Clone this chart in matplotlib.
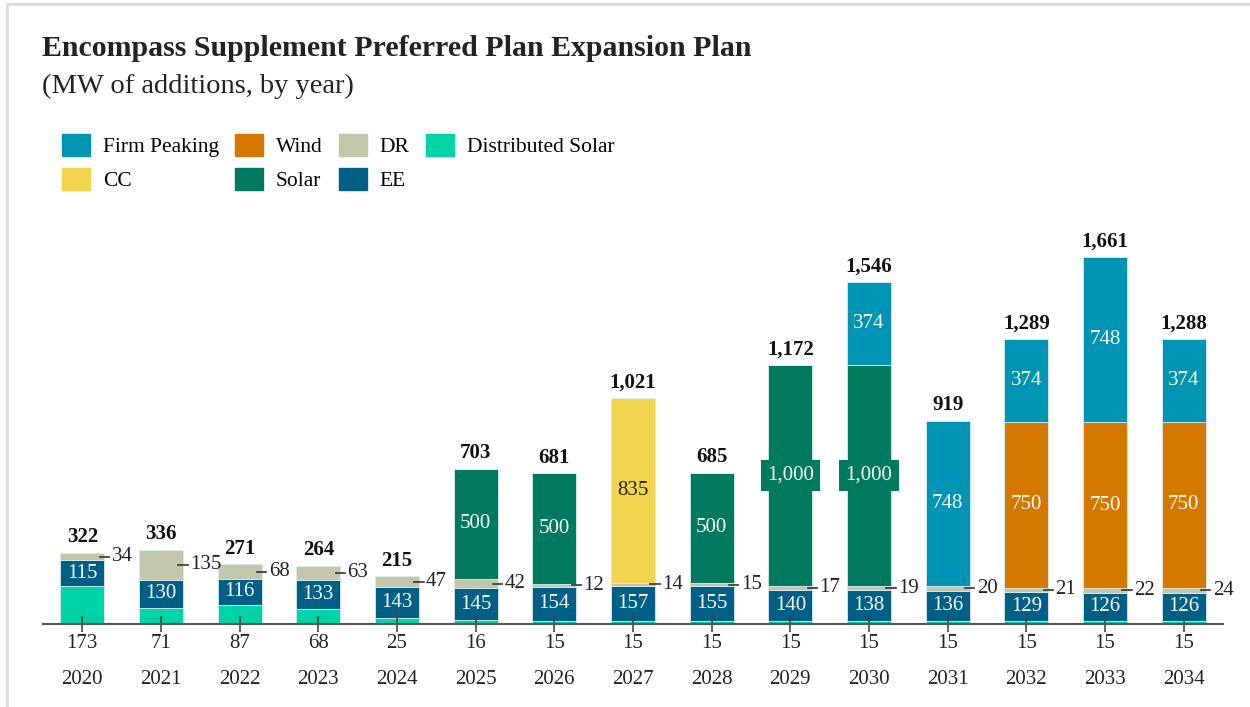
import numpy as np
import matplotlib.pyplot as plt
from matplotlib.patches import Patch
from matplotlib.lines import Line2D

plt.rcParams['font.family'] = ['Liberation Serif', 'DejaVu Serif']

years = ['2020', '2021', '2022', '2023', '2024', '2025', '2026', '2027',
         '2028', '2029', '2030', '2031', '2032', '2033', '2034']
dist_solar = [173, 71, 87, 68, 25, 16, 15, 15, 15, 15, 15, 15, 15, 15, 15]
ee = [115, 130, 116, 133, 143, 145, 154, 157, 155, 140, 138, 136, 129, 126, 126]
dr = [34, 135, 68, 63, 47, 42, 12, 14, 15, 17, 19, 20, 21, 22, 24]
cc = [0, 0, 0, 0, 0, 0, 0, 835, 0, 0, 0, 0, 0, 0, 0]
solar = [0, 0, 0, 0, 0, 500, 500, 0, 500, 1000, 1000, 0, 0, 0, 0]
wind = [0, 0, 0, 0, 0, 0, 0, 0, 0, 0, 0, 0, 750, 750, 750]
firm = [0, 0, 0, 0, 0, 0, 0, 0, 0, 0, 374, 748, 374, 748, 374]
totals = [322, 336, 271, 264, 215, 703, 681, 1021, 685, 1172, 1546, 919, 1289, 1661, 1288]

c_firm = '#0094b4'
c_wind = '#d47800'
c_dr = '#c4c6ab'
c_dsol = '#00d4a6'
c_cc = '#f2d44e'
c_solar = '#007a5e'
c_ee = '#005f85'

fig = plt.figure(figsize=(12.5, 7.07), dpi=100)
ax = fig.add_axes([43 / 1250, 1 - 624 / 707, 1180 / 1250, 398 / 707])

x = np.arange(len(years))
w = 0.56
edge = dict(edgecolor='#d8ecee', linewidth=0.6)

bottom = np.zeros(len(years))
series = [(dist_solar, c_dsol), (ee, c_ee), (dr, c_dr), (solar, c_solar),
          (cc, c_cc), (wind, c_wind), (firm, c_firm)]
bottoms = {}
for vals, col in series:
    v = np.array(vals, dtype=float)
    bottoms[col] = bottom.copy()
    ax.bar(x, v, w, bottom=bottom, color=col, **edge)
    bottom = bottom + v

fs = 15
# in-bar labels
for i in range(len(years)):
    b = bottoms[c_ee][i]
    ax.text(x[i], b + ee[i] / 2, str(ee[i]), ha='center', va='center', color='white', fontsize=fs)
    # DR label with short dash
    yd = bottoms[c_dr][i] + dr[i] / 2
    ax.plot([x[i] + w / 2 - 0.06, x[i] + w / 2 + 0.06], [yd, yd], color='#333333', lw=1.2)
    ax.text(x[i] + w / 2 + 0.09, yd, str(dr[i]), ha='left', va='center', color='#222222', fontsize=fs)
    if solar[i]:
        yy = bottoms[c_solar][i] + solar[i] / 2
        lab = f'{solar[i]:,}'
        if solar[i] >= 1000:
            ax.text(x[i], yy, lab, ha='center', va='center', color='white', fontsize=fs,
                    bbox=dict(boxstyle='square,pad=0.3', fc=c_solar, ec='none'))
        else:
            ax.text(x[i], yy, lab, ha='center', va='center', color='white', fontsize=fs)
    if cc[i]:
        ax.text(x[i], bottoms[c_cc][i] + cc[i] / 2, f'{cc[i]:,}', ha='center', va='center',
                color='#222222', fontsize=fs)
    if wind[i]:
        ax.text(x[i], bottoms[c_wind][i] + wind[i] / 2, f'{wind[i]:,}', ha='center', va='center',
                color='white', fontsize=fs)
    if firm[i]:
        ax.text(x[i], bottoms[c_firm][i] + firm[i] / 2, f'{firm[i]:,}', ha='center', va='center',
                color='white', fontsize=fs)
    ax.text(x[i], bottom[i] + 25, f'{totals[i]:,}', ha='center', va='bottom', fontsize=fs,
            fontweight='bold', color='#111111')

ax.set_xlim(-0.5, 14.5)
ax.set_ylim(0, 1800)
ax.set_xticks(x)
ax.set_xticklabels([f'{d}\n\n{y}' for d, y in zip(dist_solar, years)], fontsize=fs,
                   color='#222222', linespacing=0.93)
ax.tick_params(axis='x', direction='inout', length=12, width=1.2, color='#444444', pad=1)
ax.set_yticks([])
for s in ['top', 'right', 'left']:
    ax.spines[s].set_visible(False)
ax.spines['bottom'].set_color('#555555')
ax.spines['bottom'].set_linewidth(1.5)

fig.text(42 / 1250, 1 - 48 / 707, 'Encompass Supplement Preferred Plan Expansion Plan',
         fontsize=21.5, fontweight='bold', color='#222222', va='center')
fig.text(42 / 1250, 1 - 86 / 707, '(MW of additions, by year)', fontsize=20.5,
         color='#222222', va='center')

handles = [Patch(color=c_firm), Patch(color=c_cc), Patch(color=c_wind), Patch(color=c_solar),
           Patch(color=c_dr), Patch(color=c_ee), Patch(color=c_dsol)]
labels = ['Firm Peaking', 'CC', 'Wind', 'Solar', 'DR', 'EE', 'Distributed Solar']
fig.legend(handles, labels, ncol=4, loc='upper left', bbox_to_anchor=(62 / 1250, 1 - 134 / 707),
           frameon=False, fontsize=15.5, handlelength=1.3, handleheight=1.2,
           columnspacing=0.75, handletextpad=0.6, labelspacing=0.5, borderaxespad=0,
           borderpad=0)

# frame
fig.add_artist(Line2D([7 / 1250, 7 / 1250], [0, 1 - 4 / 707], color='#dddddd', lw=2,
                      transform=fig.transFigure))
fig.add_artist(Line2D([7 / 1250, 1], [1 - 4 / 707, 1 - 4 / 707], color='#dddddd', lw=2,
                      transform=fig.transFigure))

fig.savefig('out.png', dpi=100)
